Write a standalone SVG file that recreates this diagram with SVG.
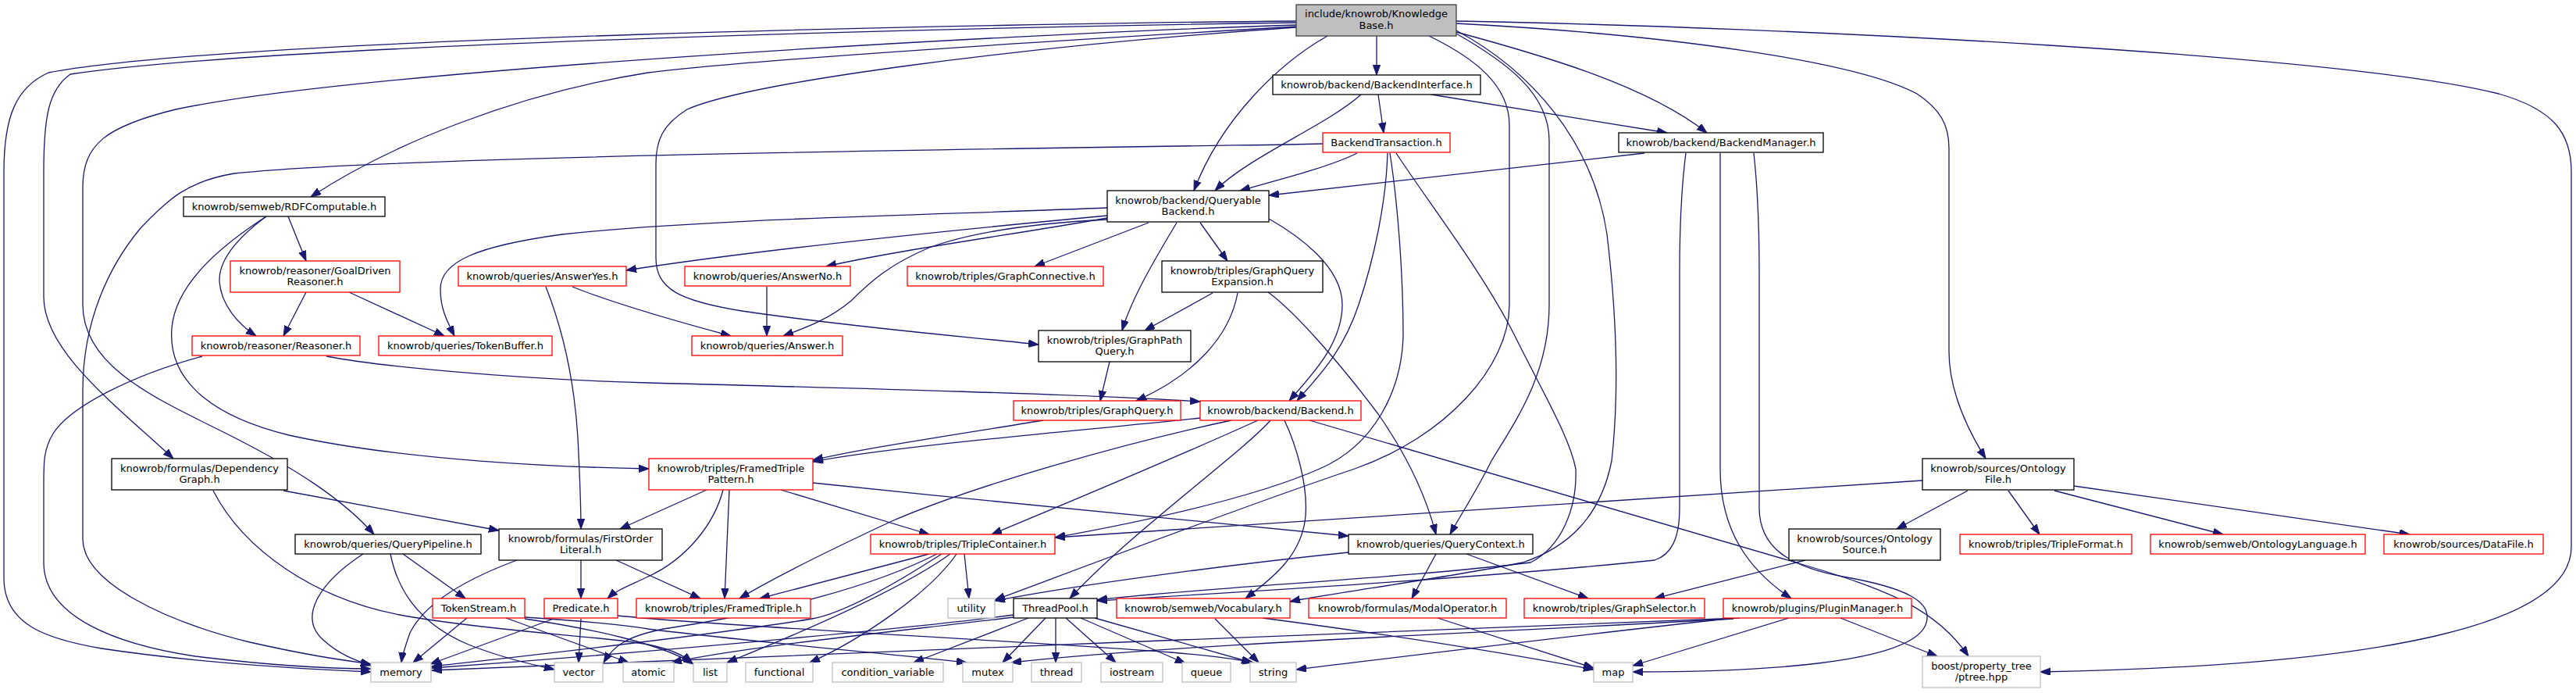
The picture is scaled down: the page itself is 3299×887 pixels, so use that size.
<svg xmlns="http://www.w3.org/2000/svg" width="3299" height="887" viewBox="0 0 3299 887">
<style>
.n rect{stroke-width:1.3}
.b rect{fill:#fff;stroke:#000}
.r rect{fill:#fff;stroke:#ff0000}
.g rect{fill:#fff;stroke:#bfbfbf}
.m rect{fill:#bfbfbf;stroke:#404040}
text{font-family:"DejaVu Sans",sans-serif;font-size:13px;text-anchor:middle;fill:#000}
#edges path{fill:none;stroke:#191970;stroke-width:1.3;marker-end:url(#a)}
</style>
<defs>
<marker id="a" markerUnits="userSpaceOnUse" markerWidth="14" markerHeight="10" refX="13" refY="4.7" orient="auto">
<path d="M0,0 L13,4.7 L0,9.4 z" fill="#191970" stroke="#191970" stroke-width="1"/>
</marker>
</defs>
<rect width="3299" height="887" fill="#fff"/>
<g id="edges">
<path d="M1660,27 C1300,30 300,48 62,93 C20,112 5,150 5,220 L5,740 C5,800 60,818 130,830 C250,848 380,856 475,860"/>
<path d="M1660,29 C1300,34 360,55 90,95 C62,115 56,150 56,220 L56,380 C56,450 150,520 222,587"/>
<path d="M1660,32 C1250,45 450,92 225,140 C135,162 106,185 106,240 L106,390 C106,470 200,510 290,555 C380,600 440,640 479,684"/>
<path d="M1660,34 C1300,55 950,78 830,93 C660,120 500,185 398,252"/>
<path d="M1660,35 C1300,60 960,105 880,140 C848,160 840,180 840,210 L840,330 C840,370 870,385 950,398 C1100,420 1250,432 1330,441"/>
<path d="M1700,46 C1640,80 1565,150 1529,244"/>
<path d="M1763,46 L1763,96"/>
<path d="M1865,41 C1980,72 2110,110 2186,170"/>
<path d="M1865,27 C2300,35 3000,70 3200,120 C3270,140 3293,170 3293,220 L3293,700 C3293,800 3050,852 2613,860"/>
<path d="M1865,30 C2150,45 2380,80 2455,120 C2485,140 2496,160 2496,190 L2496,450 C2496,500 2520,550 2543,587"/>
<path d="M1830,46 C1890,75 1933,110 1933,160 L1933,390 C1933,470 1850,560 1735,600 C1600,645 1350,740 1274,768"/>
<path d="M1865,43 C1930,80 1984,120 1984,180 L1984,390 C1984,480 1940,540 1910,590 C1890,630 1870,660 1857,684"/>
<path d="M1865,39 C1960,90 2040,180 2058,300 C2070,400 2074,500 2064,590 C2050,660 2010,700 1950,720 C1850,740 1700,760 1652,770"/>
<path d="M1743,121 C1700,160 1600,200 1556,244"/>
<path d="M1765,121 L1772,170"/>
<path d="M1833,121 L2135,170"/>
<path d="M1694,184 L1650,185 C1300,190 500,200 300,222 C240,232 215,255 180,292 C140,340 106,410 106,500 L106,690 C106,745 210,795 320,822 C400,840 440,845 475,850"/>
<path d="M1738,196 C1700,215 1630,232 1588,244"/>
<path d="M1777,196 C1775,260 1760,330 1740,390 C1720,450 1690,480 1661,513"/>
<path d="M1780,196 C1790,260 1797,350 1797,430 C1795,500 1760,570 1690,600 C1600,640 1450,670 1351,688"/>
<path d="M1788,196 C1830,260 1900,350 1940,430 C1980,510 2010,560 2018,600 C2020,650 2000,700 1960,720 C1800,740 1500,755 1405,768"/>
<path d="M2106,196 L1625,250"/>
<path d="M2159,196 C2152,250 2151,300 2151,350 L2151,650 C2151,690 2140,710 2119,717 C1900,740 1550,760 1405,769"/>
<path d="M2203,196 L2203,600 C2203,680 2240,730 2294,766"/>
<path d="M2246,196 C2252,250 2253,300 2253,350 L2253,650 C2253,700 2290,725 2360,738 C2440,752 2478,770 2466,800 C2445,850 2250,860 2091,860"/>
<path d="M1625,280 C1660,300 1719,340 1719,390 C1719,440 1680,480 1651,513"/>
<path d="M1418,266 C1200,275 900,280 720,300 C610,315 564,335 564,370 C564,395 572,410 582,430"/>
<path d="M1418,276 C1300,287 1000,315 802,346"/>
<path d="M1418,279 C1300,300 1150,320 1058,341"/>
<path d="M1418,281 C1340,285 1250,295 1190,317 C1140,338 1115,360 1090,385 C1060,410 1030,420 1003,430"/>
<path d="M1471,285 L1325,341"/>
<path d="M1507,285 C1480,330 1450,380 1437,423"/>
<path d="M1537,285 L1572,334"/>
<path d="M1553,375 L1466,423"/>
<path d="M1585,375 C1575,430 1530,480 1455,513"/>
<path d="M1624,374 C1660,400 1720,470 1765,530 C1800,580 1825,630 1839,684"/>
<path d="M1421,463 L1409,513"/>
<path d="M1336,538 C1200,560 1100,575 1041,589"/>
<path d="M1537,535 C1400,550 1150,570 1041,591"/>
<path d="M1577,538 C1450,565 1250,620 1140,668 C1050,710 990,740 947,766"/>
<path d="M1611,538 C1540,570 1400,630 1270,684"/>
<path d="M1627,538 C1590,580 1450,680 1370,766"/>
<path d="M1645,538 C1660,570 1675,620 1672,660 C1668,710 1630,740 1595,766"/>
<path d="M1677,538 L2300,720 C2420,755 2480,780 2521,840"/>
<path d="M259,456 C170,480 90,520 68,555 C56,575 56,590 56,620 L56,720 C56,790 150,825 250,840 C350,852 420,856 475,856"/>
<path d="M418,456 C480,468 650,485 830,490 C1100,497 1400,505 1537,514"/>
<path d="M369,277 L392,334"/>
<path d="M341,277 C310,300 280,330 281,360 C283,390 305,415 328,430"/>
<path d="M341,277 C290,310 225,360 220,420 C215,480 260,530 370,557 C520,590 720,598 831,600"/>
<path d="M392,374 L363,430"/>
<path d="M447,374 L569,430"/>
<path d="M733,367 C790,390 880,415 936,430"/>
<path d="M699,367 C720,420 735,480 740,560 C743,620 744,650 744,677"/>
<path d="M982,367 L982,430"/>
<path d="M363,628 L639,679"/>
<path d="M273,628 C310,700 400,770 529,790 C650,810 780,815 830,825 C855,830 875,838 886,848"/>
<path d="M465,709 C410,745 380,790 415,820 C435,838 455,845 475,852"/>
<path d="M500,709 C510,760 540,800 600,825 C650,845 690,852 710,857"/>
<path d="M516,709 L596,766"/>
<path d="M662,717 C600,740 545,770 525,810 C518,830 515,840 514,848"/>
<path d="M744,717 L744,766"/>
<path d="M789,717 L897,766"/>
<path d="M905,627 L794,677"/>
<path d="M926,627 C915,670 880,715 830,738 C805,750 790,755 778,766"/>
<path d="M934,627 L928,766"/>
<path d="M1000,627 L1190,684"/>
<path d="M1041,618 C1300,645 1600,675 1727,686"/>
<path d="M1190,709 L973,766"/>
<path d="M1206,709 C1150,745 1080,785 1040,792 C900,815 650,842 553,853"/>
<path d="M1217,709 C1160,750 1050,800 931,848"/>
<path d="M1225,709 C1190,760 1100,820 1037,848"/>
<path d="M1235,709 L1241,766"/>
<path d="M1200,709 C1100,760 950,790 850,805 C800,815 785,828 773,848"/>
<path d="M598,791 L529,848"/>
<path d="M648,791 L805,848"/>
<path d="M672,790 C750,795 800,800 830,805 C950,820 1150,838 1238,848"/>
<path d="M672,792 C760,805 850,825 888,850"/>
<path d="M709,792 L551,850"/>
<path d="M744,792 L741,848"/>
<path d="M791,788 C900,800 1300,820 1500,835 C1560,840 1590,845 1605,848"/>
<path d="M1298,787 C1200,800 900,830 553,855"/>
<path d="M1298,790 C1150,808 950,828 860,848"/>
<path d="M1317,791 L1170,848"/>
<path d="M1339,791 L1284,848"/>
<path d="M1352,791 L1352,848"/>
<path d="M1365,791 L1429,848"/>
<path d="M1384,791 L1518,849"/>
<path d="M1402,791 L1603,848"/>
<path d="M1556,792 L1612,848"/>
<path d="M1617,791 C1800,815 1950,840 2041,857"/>
<path d="M2228,791 C1800,810 900,840 553,858"/>
<path d="M2220,792 C1900,810 1500,825 1295,848"/>
<path d="M2212,792 C2000,815 1800,840 1660,857"/>
<path d="M2291,791 L2091,852"/>
<path d="M2357,791 L2481,840"/>
<path d="M1841,791 L2041,855"/>
<path d="M1727,707 C1600,720 1400,745 1274,769"/>
<path d="M1839,709 L1808,766"/>
<path d="M1878,709 L2034,766"/>
<path d="M2312,717 L2119,766"/>
<path d="M2462,615 C2000,645 1600,672 1351,688"/>
<path d="M2520,628 L2429,677"/>
<path d="M2572,628 L2612,684"/>
<path d="M2631,628 L2847,684"/>
<path d="M2656,622 L3086,684"/>
</g>
<g id="n_main" class="n m"><rect x="1660" y="6" width="205" height="40"/><text x="1762.5" y="22">include/knowrob/Knowledge</text><text x="1762.5" y="37">Base.h</text></g>
<g id="n_bi" class="n b"><rect x="1630" y="96" width="266" height="25"/><text x="1763" y="113">knowrob/backend/BackendInterface.h</text></g>
<g id="n_bt" class="n r"><rect x="1694" y="170" width="163" height="25"/><text x="1775.5" y="187">BackendTransaction.h</text></g>
<g id="n_bm" class="n b"><rect x="2073" y="170" width="262" height="25"/><text x="2204" y="187">knowrob/backend/BackendManager.h</text></g>
<g id="n_qb" class="n b"><rect x="1418" y="244" width="207" height="40"/><text x="1521.5" y="261">knowrob/backend/Queryable</text><text x="1521.5" y="275">Backend.h</text></g>
<g id="n_rdf" class="n b"><rect x="235" y="252" width="258" height="25"/><text x="364" y="269">knowrob/semweb/RDFComputable.h</text></g>
<g id="n_gdr" class="n r"><rect x="295" y="334" width="217" height="40"/><text x="403.5" y="351">knowrob/reasoner/GoalDriven</text><text x="403.5" y="365">Reasoner.h</text></g>
<g id="n_ay" class="n r"><rect x="587" y="341" width="215" height="25"/><text x="694.5" y="358">knowrob/queries/AnswerYes.h</text></g>
<g id="n_an" class="n r"><rect x="877" y="341" width="212" height="25"/><text x="983" y="358">knowrob/queries/AnswerNo.h</text></g>
<g id="n_gc" class="n r"><rect x="1162" y="341" width="251" height="25"/><text x="1287.5" y="358">knowrob/triples/GraphConnective.h</text></g>
<g id="n_gqe" class="n b"><rect x="1488" y="334" width="206" height="40"/><text x="1591" y="351">knowrob/triples/GraphQuery</text><text x="1591" y="365">Expansion.h</text></g>
<g id="n_reas" class="n r"><rect x="246" y="430" width="215" height="25"/><text x="353.5" y="447">knowrob/reasoner/Reasoner.h</text></g>
<g id="n_tb" class="n r"><rect x="485" y="430" width="222" height="25"/><text x="596" y="447">knowrob/queries/TokenBuffer.h</text></g>
<g id="n_ans" class="n r"><rect x="886" y="430" width="193" height="25"/><text x="982.5" y="447">knowrob/queries/Answer.h</text></g>
<g id="n_gpq" class="n b"><rect x="1330" y="423" width="195" height="40"/><text x="1427.5" y="440">knowrob/triples/GraphPath</text><text x="1427.5" y="454">Query.h</text></g>
<g id="n_gq" class="n r"><rect x="1298" y="513" width="214" height="25"/><text x="1405" y="530">knowrob/triples/GraphQuery.h</text></g>
<g id="n_be" class="n r"><rect x="1537" y="513" width="206" height="25"/><text x="1640" y="530">knowrob/backend/Backend.h</text></g>
<g id="n_dg" class="n b"><rect x="143" y="587" width="225" height="40"/><text x="255.5" y="604">knowrob/formulas/Dependency</text><text x="255.5" y="618">Graph.h</text></g>
<g id="n_ftp" class="n r"><rect x="831" y="587" width="210" height="40"/><text x="936" y="604">knowrob/triples/FramedTriple</text><text x="936" y="618">Pattern.h</text></g>
<g id="n_of" class="n b"><rect x="2462" y="587" width="194" height="40"/><text x="2559" y="604">knowrob/sources/Ontology</text><text x="2559" y="618">File.h</text></g>
<g id="n_qp" class="n b"><rect x="378" y="684" width="238" height="25"/><text x="497" y="701">knowrob/queries/QueryPipeline.h</text></g>
<g id="n_fol" class="n b"><rect x="639" y="677" width="209" height="40"/><text x="743.5" y="694">knowrob/formulas/FirstOrder</text><text x="743.5" y="708">Literal.h</text></g>
<g id="n_tc" class="n r"><rect x="1115" y="684" width="236" height="25"/><text x="1233" y="701">knowrob/triples/TripleContainer.h</text></g>
<g id="n_qc" class="n b"><rect x="1727" y="684" width="236" height="25"/><text x="1845" y="701">knowrob/queries/QueryContext.h</text></g>
<g id="n_os" class="n b"><rect x="2291" y="677" width="194" height="40"/><text x="2388" y="694">knowrob/sources/Ontology</text><text x="2388" y="708">Source.h</text></g>
<g id="n_tf" class="n r"><rect x="2510" y="684" width="220" height="25"/><text x="2620" y="701">knowrob/triples/TripleFormat.h</text></g>
<g id="n_ol" class="n r"><rect x="2754" y="684" width="275" height="25"/><text x="2891.5" y="701">knowrob/semweb/OntologyLanguage.h</text></g>
<g id="n_df" class="n r"><rect x="3053" y="684" width="204" height="25"/><text x="3155" y="701">knowrob/sources/DataFile.h</text></g>
<g id="n_ts" class="n r"><rect x="554" y="766" width="118" height="25"/><text x="613" y="783">TokenStream.h</text></g>
<g id="n_pred" class="n r"><rect x="697" y="766" width="94" height="25"/><text x="744" y="783">Predicate.h</text></g>
<g id="n_ft" class="n r"><rect x="815" y="766" width="223" height="25"/><text x="926.5" y="783">knowrob/triples/FramedTriple.h</text></g>
<g id="n_util" class="n g"><rect x="1214" y="766" width="60" height="25"/><text x="1244" y="783">utility</text></g>
<g id="n_tp" class="n b"><rect x="1298" y="766" width="107" height="25"/><text x="1351.5" y="783">ThreadPool.h</text></g>
<g id="n_voc" class="n r"><rect x="1430" y="766" width="222" height="25"/><text x="1541" y="783">knowrob/semweb/Vocabulary.h</text></g>
<g id="n_mo" class="n r"><rect x="1676" y="766" width="253" height="25"/><text x="1802.5" y="783">knowrob/formulas/ModalOperator.h</text></g>
<g id="n_gs" class="n r"><rect x="1952" y="766" width="231" height="25"/><text x="2067.5" y="783">knowrob/triples/GraphSelector.h</text></g>
<g id="n_pm" class="n r"><rect x="2207" y="766" width="241" height="25"/><text x="2327.5" y="783">knowrob/plugins/PluginManager.h</text></g>
<g id="n_memory" class="n g"><rect x="475" y="848" width="77" height="25"/><text x="513.5" y="865">memory</text></g>
<g id="n_vector" class="n g"><rect x="710" y="848" width="62" height="25"/><text x="741" y="865">vector</text></g>
<g id="n_atomic" class="n g"><rect x="798" y="848" width="65" height="25"/><text x="830.5" y="865">atomic</text></g>
<g id="n_list" class="n g"><rect x="888" y="848" width="43" height="25"/><text x="909.5" y="865">list</text></g>
<g id="n_functional" class="n g"><rect x="955" y="848" width="86" height="25"/><text x="998" y="865">functional</text></g>
<g id="n_condvar" class="n g"><rect x="1066" y="848" width="142" height="25"/><text x="1137" y="865">condition_variable</text></g>
<g id="n_mutex" class="n g"><rect x="1233" y="848" width="64" height="25"/><text x="1265" y="865">mutex</text></g>
<g id="n_thread" class="n g"><rect x="1321" y="848" width="64" height="25"/><text x="1353" y="865">thread</text></g>
<g id="n_iostream" class="n g"><rect x="1410" y="848" width="79" height="25"/><text x="1449.5" y="865">iostream</text></g>
<g id="n_queue" class="n g"><rect x="1514" y="848" width="62" height="25"/><text x="1545" y="865">queue</text></g>
<g id="n_string" class="n g"><rect x="1601" y="848" width="59" height="25"/><text x="1630.5" y="865">string</text></g>
<g id="n_map" class="n g"><rect x="2041" y="848" width="50" height="25"/><text x="2066" y="865">map</text></g>
<g id="n_ptree" class="n g"><rect x="2462" y="840" width="151" height="40"/><text x="2537.5" y="857">boost/property_tree</text><text x="2537.5" y="871">/ptree.hpp</text></g>
</svg>
